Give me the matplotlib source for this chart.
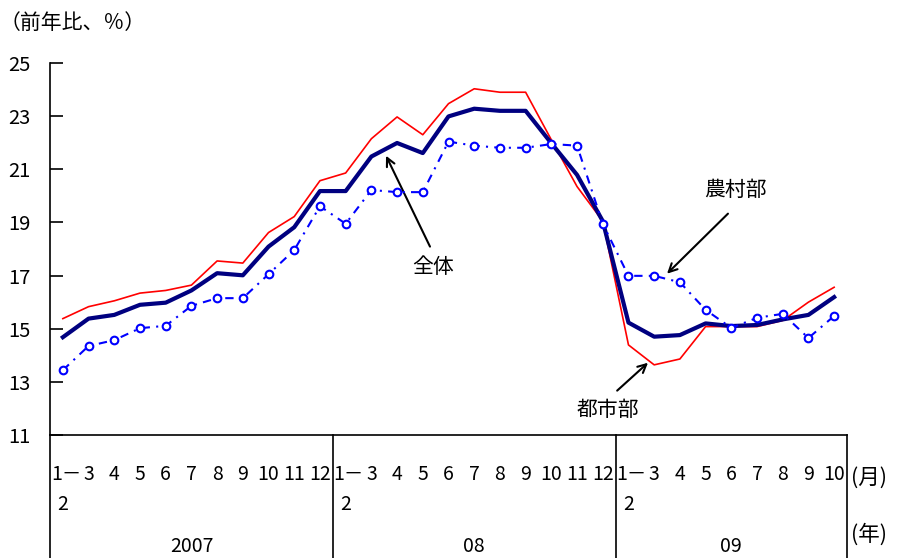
import matplotlib
matplotlib.use('Agg')
import matplotlib.pyplot as plt
import matplotlib.transforms as mtransforms
from matplotlib.lines import Line2D
import numpy as np

plt.rcParams['font.family'] = ['Noto Sans CJK JP', 'DejaVu Sans']

# Data (year-on-year growth, %)
months = ['1－\n2', '3', '4', '5', '6', '7', '8', '9', '10', '11', '12',
          '1－\n2', '3', '4', '5', '6', '7', '8', '9', '10', '11', '12',
          '1－\n2', '3', '4', '5', '6', '7', '8', '9', '10']
years = ['2007', '08', '09']
year_counts = [11, 11, 9]

urban = [15.38, 15.83, 16.05, 16.34, 16.44, 16.64, 17.55, 17.47, 18.62, 19.22, 20.57,
         20.86, 22.15, 22.97, 22.30, 23.47, 24.03, 23.90, 23.90, 22.11, 20.35, 19.05,
         14.39, 13.64, 13.86, 15.08, 15.08, 15.08, 15.31, 16.00, 16.56]
total = [14.68, 15.38, 15.52, 15.90, 15.98, 16.44, 17.09, 17.01, 18.09, 18.82, 20.18,
         20.18, 21.48, 21.99, 21.61, 22.99, 23.28, 23.20, 23.20, 21.98, 20.79, 19.05,
         15.23, 14.70, 14.76, 15.20, 15.10, 15.14, 15.35, 15.52, 16.19]
rural = [13.44, 14.35, 14.57, 15.02, 15.11, 15.86, 16.15, 16.15, 17.05, 17.96, 19.61,
         18.95, 20.22, 20.14, 20.14, 22.04, 21.89, 21.81, 21.81, 21.95, 21.89, 18.95,
         16.99, 16.99, 16.75, 15.71, 15.03, 15.41, 15.56, 14.65, 15.48]

W, H = 900, 558
fig = plt.figure(figsize=(9, 5.58), dpi=100)
ax = fig.add_axes([50 / W, 1 - 435 / H, (847 - 50) / W, (435 - 63) / H])

x = np.arange(len(months))
ax.plot(x, urban, color='red', lw=1.2, zorder=3)
ax.plot(x, total, color='#000080', lw=3.0, zorder=4)
ax.plot(x, rural, color='blue', lw=1.5, ls=(0, (4, 3, 1, 3)), marker='o', ms=5.5,
        mfc='white', mec='blue', mew=1.5, zorder=5)

ax.set_xlim(-0.5, len(months) - 0.5)
ax.set_ylim(11, 25)
ax.set_yticks(range(11, 26, 2))
ax.set_xticks([])
ax.tick_params(axis='y', direction='in', length=9, width=1.2, pad=14, labelsize=14.5)
for s in ['top', 'right']:
    ax.spines[s].set_visible(False)
for s in ['left', 'bottom']:
    ax.spines[s].set_linewidth(1.2)

# table-like area below the axis
trans = mtransforms.blended_transform_factory(ax.transData, fig.transFigure)
ybot = 1 - 435 / H
bounds = [-0.5] + list(np.cumsum(year_counts) - 0.5)
for b in bounds:
    fig.add_artist(Line2D([b, b], [0, ybot], transform=trans, color='black', lw=1.2))

for i, lab in enumerate(months):
    for j, part in enumerate(lab.split('\n')):
        off = 0.12 if j == 0 and len(part) > 1 and not part.isdigit() else 0
        ax.text(i + off, 1 - (480 + 30 * j) / H, part, transform=trans, ha='center',
                va='baseline', fontsize=14)

for k, yr in enumerate(years):
    c = (bounds[k] + bounds[k + 1]) / 2
    ax.text(c, 1 - 557 / H, yr, transform=trans, ha='center', va='bottom', fontsize=14)

fig.text(851 / W, 1 - 484 / H, '(月)', ha='left', va='baseline', fontsize=15.5)
fig.text(851 / W, 1 - 541 / H, '(年)', ha='left', va='baseline', fontsize=15.5)
fig.text(0, 1 - 23 / H, '（前年比、％）', ha='left', va='center', fontsize=15)

# annotations
arrow = dict(arrowstyle='->', color='black', lw=1.5, mutation_scale=15, shrinkA=0, shrinkB=0)
ax.annotate('', xy=(12.57, 21.51), xytext=(14.28, 18.09), arrowprops=arrow)
ax.text(14.40, 17.34, '全体', ha='center', va='center', fontsize=15)
ax.annotate('', xy=(23.50, 17.07), xytext=(25.87, 19.33), arrowprops=arrow)
ax.text(26.15, 20.23, '農村部', ha='center', va='center', fontsize=15)
ax.annotate('', xy=(22.76, 13.72), xytext=(21.56, 12.67), arrowprops=arrow)
ax.text(21.2, 11.95, '都市部', ha='center', va='center', fontsize=15)

fig.savefig('out.png', dpi=100)
